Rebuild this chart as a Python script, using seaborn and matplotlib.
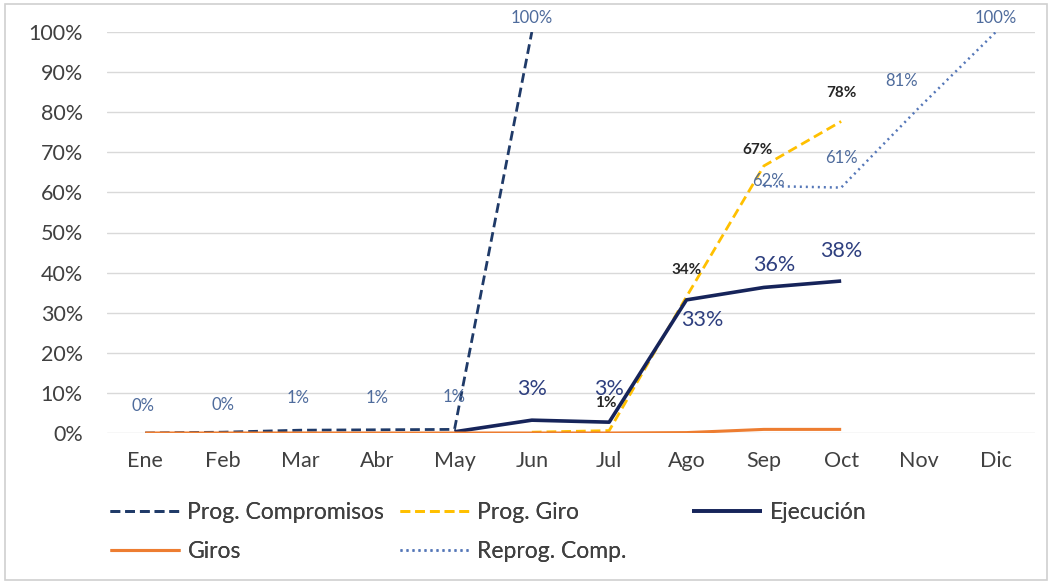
import numpy as np
import pandas as pd
import matplotlib
matplotlib.use("Agg")
import matplotlib.pyplot as plt
import seaborn as sns
from matplotlib.patches import Rectangle

# ---- data -------------------------------------------------------------
months = ["Ene", "Feb", "Mar", "Abr", "May", "Jun",
          "Jul", "Ago", "Sep", "Oct", "Nov", "Dic"]

prog_compromisos = [0.0, 0.2, 0.7, 0.8, 0.9, 100.0]      # Ene - Jun
prog_giro = [0.2, 0.6, 34.0, 66.6, 77.7]                 # Jun - Oct
ejecucion = [0.3, 3.2, 2.7, 33.2, 36.3, 37.9]            # May - Oct
giros = [0.0, 0.0, 0.0, 0.0, 0.0, 0.0, 0.0, 0.1, 0.9, 0.9]  # Ene - Oct
reprog_comp = [61.6, 61.2, 81.0, 100.0]                  # Sep - Dic

y_ticks = list(range(0, 101, 10))

# ---- styling ----------------------------------------------------------
sns.set_theme(style="white")
plt.rcParams["font.family"] = ["Lato", "DejaVu Sans"]

W, H = 1052, 584
fig = plt.figure(figsize=(W / 100, H / 100), dpi=100)
ax = fig.add_axes([106.5 / W, 1 - 433 / H, 928 / W, 401 / H])

px = 72 / 100  # points per pixel

series = [
    # name, values, first month index, colour, lw, dashes, zorder
    ("Prog. Compromisos", prog_compromisos, 0, "#1f3a68", 2.0, (3.5, 1.8), 3),
    ("Prog. Giro", prog_giro, 5, "#ffc000", 2.0, (3.5, 1.8), 4),
    ("Ejecución", ejecucion, 4, "#16245a", 2.6, None, 5),
    ("Giros", giros, 0, "#ed7d31", 2.2, None, 6),
    ("Reprog. Comp.", reprog_comp, 8, "#5577b8", 1.8, (0.8, 1.6), 4),
]

handles = {}
for name, vals, start, color, lw, dashes, z in series:
    df = pd.DataFrame({"mes": np.arange(start, start + len(vals)), "pct": vals})
    sns.lineplot(data=df, x="mes", y="pct", ax=ax, color=color, linewidth=lw,
                 sort=False, zorder=z)
    line = ax.lines[-1]
    if dashes is not None:
        line.set_dashes(dashes)
    line.set_solid_capstyle("butt")
    line.set_dash_capstyle("butt")
    handles[name] = line

# ---- data labels ------------------------------------------------------
def label_series(vals, start, first, offsets, color, size, weight="normal"):
    for i, (dx, dy) in zip(range(first, len(vals)), offsets):
        v = vals[i]
        ax.annotate(f"{round(v):.0f}%", xy=(start + i, v),
                    xytext=(dx * px, dy * px), textcoords="offset points",
                    ha="center", va="center", fontsize=size, color=color,
                    fontweight=weight, annotation_clip=False, zorder=10)

label_series(prog_compromisos, 0, 0,
             [(-2, 27), (0, 27), (-2, 32), (0, 32), (0, 32), (0, 14)],
             "#4e6b9c", 12)
label_series(prog_giro, 5, 1,
             [(-3, 28), (0, 27), (-6, 16), (0, 28)],
             "#262626", 11, "bold")
label_series(ejecucion, 4, 1,
             [(0, 31), (0, 33), (16, -20), (10, 22), (0, 30)],
             "#2e3f7f", 15.5)
label_series(reprog_comp, 8, 0,
             [(5, 5), (0, 30), (-17, 27), (0, 14)],
             "#4e6b9c", 12)

# ---- axes -------------------------------------------------------------
ax.set_xlim(-0.5, 11.5)
ax.set_ylim(0, 100)
ax.set_xticks(range(len(months)))
ax.set_xticklabels(months)
ax.set_yticks(y_ticks)
ax.set_yticklabels([f"{t}%" for t in y_ticks])
ax.tick_params(axis="x", length=0, pad=13, labelsize=15.5, labelcolor="#404040")
ax.tick_params(axis="y", length=0, pad=17, labelsize=15.5, labelcolor="#404040")
ax.set_xlabel("")
ax.set_ylabel("")
ax.grid(axis="y", color="#d9d9d9", linewidth=1)
ax.set_axisbelow(True)
for s in ax.spines.values():
    s.set_visible(False)

# ---- legend: three fixed-width columns --------------------------------
leg_kw = dict(loc="upper left", frameon=False, fontsize=16.5,
              handlelength=3.05, handletextpad=0.33, labelspacing=0.78,
              borderpad=0, borderaxespad=0, labelcolor="#404040")
columns = [(110, ["Prog. Compromisos", "Giros"]),
           (400, ["Prog. Giro", "Reprog. Comp."]),
           (692, ["Ejecución"])]
for x0, names in columns:
    leg = fig.legend([handles[n] for n in names], names,
                     bbox_to_anchor=(x0 / W, 1 - 502 / H), **leg_kw)
    fig.add_artist(leg)

# thin frame around the whole chart
fig.patches.append(Rectangle((5 / W, 4 / H), 1042 / W, 576 / H,
                             transform=fig.transFigure, fill=False,
                             edgecolor="#d0d0d0", linewidth=1.2))

fig.savefig("out.png", dpi=100)
